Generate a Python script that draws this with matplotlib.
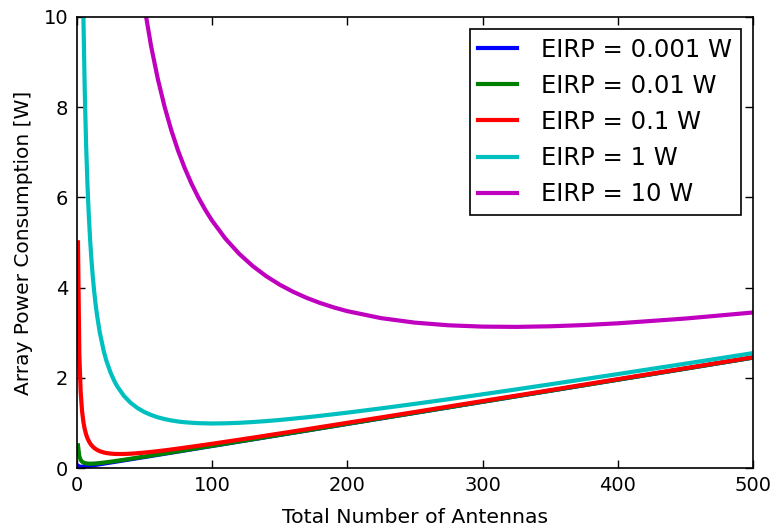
import matplotlib
matplotlib.use("Agg")
import matplotlib.pyplot as plt

# Number of antennas (shared grid for the four lower-EIRP curves)
n_ant = [1, 2, 3, 4, 5, 6, 7, 8, 9, 10, 11, 12, 13, 14, 15, 17, 20, 22, 25, 28, 30,
         35, 40, 45, 50, 55, 60, 65, 70, 75, 80, 90, 100, 110, 120, 130, 140, 150,
         160, 170, 180, 200, 225, 250, 275, 300, 325, 350, 400, 450, 500]

p_0001 = [0.055, 0.035, 0.031, 0.032, 0.035, 0.038, 0.041, 0.045, 0.050, 0.054,
          0.058, 0.063, 0.068, 0.072, 0.077, 0.086, 0.101, 0.110, 0.125, 0.139, 0.149,
          0.173, 0.197, 0.222, 0.246, 0.270, 0.295, 0.319, 0.344, 0.368, 0.393,
          0.442, 0.491, 0.539, 0.589, 0.637, 0.686, 0.735, 0.784, 0.833, 0.882,
          0.980, 1.103, 1.225, 1.348, 1.470, 1.593, 1.715, 1.960, 2.205, 2.450]

p_001 = [0.505, 0.260, 0.181, 0.145, 0.125, 0.113, 0.106, 0.102, 0.100, 0.099,
         0.099, 0.101, 0.102, 0.104, 0.107, 0.113, 0.123, 0.131, 0.143, 0.155, 0.164,
         0.186, 0.209, 0.232, 0.255, 0.279, 0.302, 0.326, 0.350, 0.374, 0.398,
         0.447, 0.495, 0.544, 0.592, 0.641, 0.690, 0.738, 0.787, 0.836, 0.885,
         0.983, 1.105, 1.227, 1.349, 1.472, 1.594, 1.716, 1.961, 2.206, 2.451]

p_01 = [5.005, 2.510, 1.681, 1.270, 1.025, 0.863, 0.749, 0.664, 0.600, 0.549,
        0.508, 0.476, 0.448, 0.426, 0.407, 0.377, 0.348, 0.335, 0.323, 0.316, 0.314,
        0.314, 0.321, 0.332, 0.345, 0.360, 0.377, 0.395, 0.414, 0.434, 0.455,
        0.497, 0.540, 0.585, 0.630, 0.675, 0.722, 0.768, 0.815, 0.862, 0.910,
        1.005, 1.125, 1.245, 1.366, 1.487, 1.608, 1.729, 1.973, 2.216, 2.460]

p_1 = [50.005, 25.010, 16.681, 12.520, 10.025, 8.363, 7.177, 6.289, 5.600, 5.049,
       4.599, 4.225, 3.910, 3.640, 3.407, 3.025, 2.598, 2.381, 2.123, 1.923, 1.814,
       1.600, 1.446, 1.332, 1.245, 1.179, 1.127, 1.088, 1.057, 1.034, 1.017,
       0.997, 0.990, 0.994, 1.005, 1.022, 1.043, 1.068, 1.097, 1.127, 1.160,
       1.230, 1.325, 1.425, 1.529, 1.637, 1.746, 1.858, 2.085, 2.316, 2.550]

# EIRP = 10 W curve (only visible from ~50 antennas)
n_ant_10 = [45, 50, 55, 60, 65, 70, 75, 80, 85, 90, 95, 100, 110, 120, 130, 140,
            150, 160, 170, 180, 190, 200, 225, 250, 275, 300, 325, 350, 375, 400,
            450, 500]
p_10 = [11.332, 10.245, 9.360, 8.627, 8.011, 7.486, 7.034, 6.642, 6.299, 5.997,
        5.729, 5.490, 5.085, 4.755, 4.483, 4.257, 4.068, 3.909, 3.774, 3.660,
        3.563, 3.480, 3.325, 3.225, 3.166, 3.137, 3.131, 3.144, 3.171, 3.210,
        3.316, 3.450]

labels = ["EIRP = 0.001 W", "EIRP = 0.01 W", "EIRP = 0.1 W", "EIRP = 1 W", "EIRP = 10 W"]
colors = ["#0000ff", "#008000", "#ff0000", "#00bfbf", "#bf00bf"]

fig = plt.figure(figsize=(7.74, 5.29), dpi=100)
ax = fig.add_axes([0.099, 0.115, 0.874, 0.853])

series = [(n_ant, p_0001), (n_ant, p_001), (n_ant, p_01), (n_ant, p_1), (n_ant_10, p_10)]
for (x, y), lab, c in zip(series, labels, colors):
    ax.plot(x, y, color=c, lw=3.0, label=lab, solid_capstyle="projecting",
            solid_joinstyle="round")

ax.set_xlim(0, 500)
ax.set_ylim(0, 10)
ax.set_xticks([0, 100, 200, 300, 400, 500])
ax.set_yticks([0, 2, 4, 6, 8, 10])
ax.tick_params(direction="in", length=6, width=1, labelsize=14, top=True, right=True, pad=6)
for s in ax.spines.values():
    s.set_linewidth(1.2)
ax.set_xlabel("Total Number of Antennas", fontsize=14.7, labelpad=9)
ax.set_ylabel("Array Power Consumption [W]", fontsize=14.5, labelpad=8)

leg = ax.legend(loc="upper right", fontsize=17.5, fancybox=False, framealpha=1,
                edgecolor="black", borderpad=0.35, handlelength=1.6, handletextpad=1.0,
                labelspacing=0.5, borderaxespad=0.5)
leg.get_frame().set_linewidth(1.2)

fig.savefig("out.png", dpi=100)
